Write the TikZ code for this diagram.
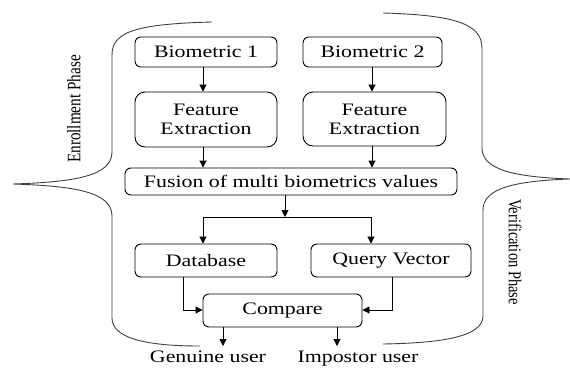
\documentclass[tikz,border=0pt]{standalone}
\usepackage{fontspec}
\setmainfont{Liberation Serif}[FakeStretch=1.25]
\newfontfamily\plainserif{Liberation Serif}
\usetikzlibrary{arrows.meta}
\begin{document}
\begin{tikzpicture}[x=1pt,y=-1pt,
  box/.style={draw, line width=0.9pt, rounded corners=6pt, align=center, inner sep=0pt,
    font=\fontsize{17.5}{19}\selectfont},
  conn/.style={line width=0.9pt, -{Triangle[length=7pt,width=7pt]}},
  plain/.style={line width=0.9pt},
  brace/.style={line width=0.9pt, draw=black!75},
  lbl/.style={font=\fontsize{17.5}{19}\selectfont, inner sep=0pt, anchor=base},
  phase/.style={inner sep=0pt}]
\useasboundingbox (0,0) rectangle (570,367);
% boxes
\node[box, minimum width=142pt, minimum height=30pt] (b1) at (206,52) {Biometric 1};
\node[box, minimum width=139pt, minimum height=30pt] (b2) at (372.5,52) {Biometric 2};
\node[box, minimum width=142pt, minimum height=55pt, rounded corners=10pt] (fe1) at (206,119.5) {Feature\\Extraction};
\node[box, minimum width=143pt, minimum height=54pt, rounded corners=10pt] (fe2) at (374.5,119) {Feature\\Extraction};
\node[box, minimum width=332pt, minimum height=27pt] (fus) at (291,181.5) {Fusion of multi biometrics values};
\node[box, minimum width=142pt, minimum height=33pt] (db) at (206,260.5) {Database};
\node[box, minimum width=160pt, minimum height=33pt] (qv) at (391,260.5) {Query Vector};
\node[box, minimum width=159pt, minimum height=33pt] (cmp) at (282.5,310.5) {Compare};
\node[lbl] (gen) at (208,362.5) {Genuine user};
\node[lbl] (imp) at (358,362.5) {Impostor user};
% phase labels
\node[phase, rotate=90] (enr) at (74,109) {\scalebox{1}[1.25]{\plainserif\fontsize{15.2}{16}\selectfont Enrollment Phase}};
\node[phase, rotate=-90] (ver) at (515,252) {\scalebox{1}[1.25]{\plainserif\fontsize{14.5}{16}\selectfont Verification Phase}};
% coordinates
\coordinate (x1) at (203,0);
\coordinate (x2) at (372,0);
\coordinate (split) at (285,217);
\coordinate (sl) at (203,217);
\coordinate (sr) at (371,217);
\coordinate (dbx) at (183,310);
\coordinate (qvx) at (392,310);
\coordinate (ge) at (223,346);
\coordinate (ie) at (337,346);
% connectors
\draw[conn] (x1 |- b1.south) -- (x1 |- fe1.north);
\draw[conn] (x2 |- b2.south) -- (x2 |- fe2.north);
\draw[conn] (x1 |- fe1.south) -- (x1 |- fus.north);
\draw[conn] (x2 |- fe2.south) -- (x2 |- fus.north);
\draw[conn] (split |- fus.south) -- (split);
\draw[plain] (sl) -- (sr);
\draw[conn] (sl) -- (sl |- db.north);
\draw[conn] (sr) -- (sr |- qv.north);
\draw[conn] (dbx |- db.south) -- (dbx) -- (cmp.west |- dbx);
\draw[conn] (qvx |- qv.south) -- (qvx) -- (cmp.east |- qvx);
\draw[conn] (ge |- cmp.south) -- (ge);
\draw[conn] (ie |- cmp.south) -- (ie);
% braces
\draw[brace] (212,22) .. controls (135,24) and (112,32) .. (112,55) -- (112,152)
  .. controls (112,176) and (75,182) .. (13,184)
  .. controls (75,186) and (112,192) .. (112,216) -- (112,318)
  .. controls (112,338) and (145,346) .. (200,346);
\draw[brace] (383,13) .. controls (455,15) and (482,24) .. (482,48) -- (482,148)
  .. controls (482,170) and (515,177) .. (570,179)
  .. controls (515,181) and (483,188) .. (483,210) -- (483,316)
  .. controls (483,336) and (445,343) .. (383,344);
\end{tikzpicture}
\end{document}
